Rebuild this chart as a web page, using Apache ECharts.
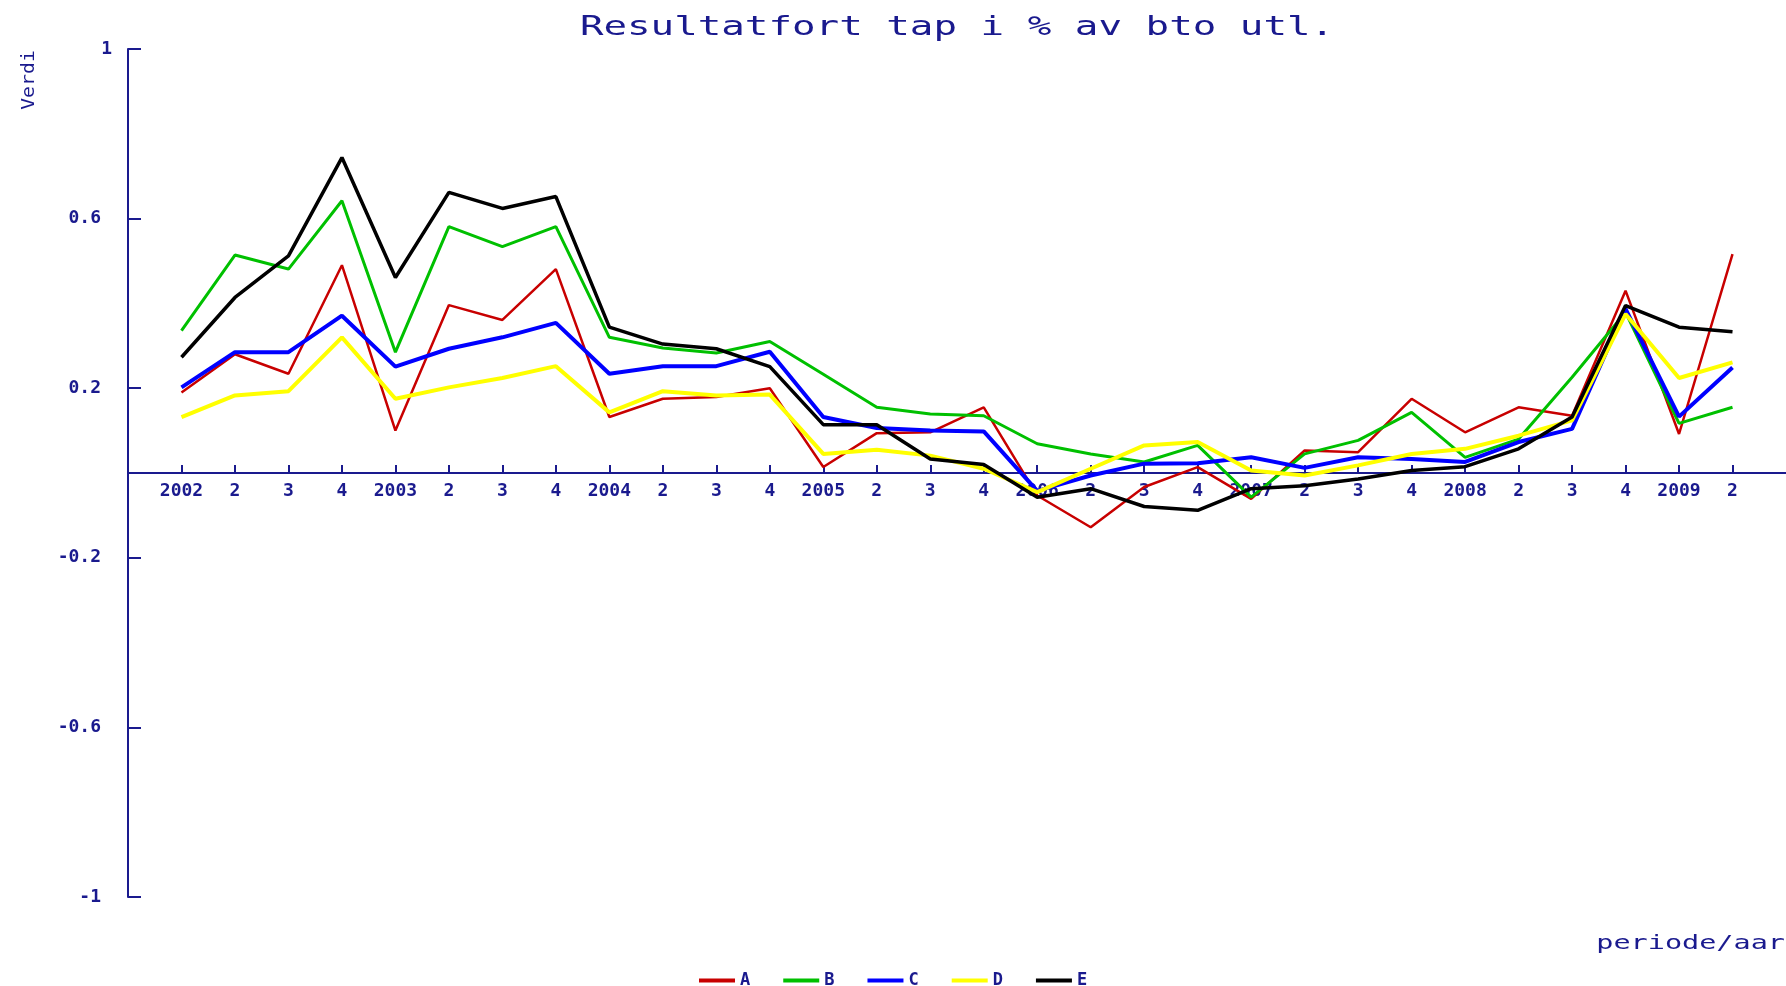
<!DOCTYPE html>
<html>
<head>
<meta charset="utf-8">
<script src="https://cdn.jsdelivr.net/npm/echarts@6/dist/echarts.min.js"></script>
<style>
html,body{margin:0;padding:0;background:#ffffff;}
#c{width:1786px;height:986px;}
</style>
</head>
<body>
<div id="c"></div>
<script>
// ---- data ----
const periods = ['2002','2','3','4','2003','2','3','4','2004','2','3','4','2005','2','3','4',
                 '2006','2','3','4','2007','2','3','4','2008','2','3','4','2009','2'];
const seriesNames = ['A','B','C','D','E'];
const valuesA = [0.19,0.28,0.234,0.49,0.10,0.396,0.361,0.481,0.132,0.175,0.179,0.20,0.014,0.094,0.096,0.155,
                 -0.053,-0.128,-0.033,0.014,-0.061,0.053,0.049,0.175,0.096,0.155,0.135,0.43,0.092,0.516];
const valuesB = [0.336,0.514,0.481,0.642,0.285,0.581,0.534,0.581,0.32,0.295,0.283,0.31,0.233,0.155,0.139,0.135,
                 0.069,0.045,0.026,0.065,-0.057,0.045,0.077,0.143,0.037,0.08,0.226,0.379,0.117,0.155];
const valuesC = [0.202,0.285,0.285,0.371,0.251,0.293,0.32,0.354,0.234,0.252,0.252,0.286,0.132,0.106,0.10,0.098,
                 -0.042,-0.006,0.022,0.023,0.037,0.012,0.037,0.033,0.026,0.073,0.104,0.387,0.133,0.249];
const valuesD = [0.132,0.183,0.193,0.32,0.175,0.202,0.224,0.252,0.143,0.193,0.183,0.185,0.045,0.055,0.041,0.01,
                 -0.045,0.01,0.065,0.073,0.006,-0.006,0.018,0.045,0.057,0.088,0.124,0.375,0.224,0.261];
const valuesE = [0.273,0.414,0.512,0.744,0.461,0.662,0.624,0.652,0.344,0.304,0.293,0.251,0.114,0.114,0.033,0.02,
                 -0.057,-0.037,-0.079,-0.088,-0.037,-0.03,-0.014,0.006,0.015,0.057,0.132,0.395,0.344,0.333];
const yTicks = [-1,-0.6,-0.2,0.2,0.6,1];
const titleText = 'Resultatfort tap i % av bto utl.';
const yName = 'Verdi';
const xName = 'periode/aar';

// ---- styling ----
const NAVY = '#1a1a8e';
const FONT = 'DejaVu Sans Mono';
const colors = ['#c80000','#00c000','#0000ff','#ffff00','#000000'];
const widths = [2.5,3,4,4,3.5];

const allValues = [valuesA, valuesB, valuesC, valuesD, valuesE];
const xPos = periods.map((_, i) => i + 1);

const chart = echarts.init(document.getElementById('c'), null, {renderer: 'canvas'});
const option = {
  animation: false,
  backgroundColor: '#ffffff',
  legend: {
    data: seriesNames,
    left: 694,
    top: 967,
    icon: 'rect',
    itemWidth: 36,
    itemHeight: 4,
    itemGap: 33,
    textStyle: {fontFamily: FONT, fontSize: 17, fontWeight: 'bold', color: NAVY}
  },
  grid: {left: 128, right: 0, top: 49, bottom: 89, containLabel: false},
  xAxis: {
    type: 'value',
    min: 0,
    max: 31,
    position: 'bottom',
    offset: -424,
    splitLine: {show: false},
    axisLine: {onZero: false, lineStyle: {color: NAVY, width: 2}},
    axisTick: {show: true, inside: true, length: 8, customValues: xPos, lineStyle: {color: NAVY, width: 2}},
    axisLabel: {
      customValues: xPos,
      margin: 9,
      hideOverlap: false,
      fontFamily: FONT, fontSize: 18, fontWeight: 'bold', color: NAVY,
      formatter: v => periods[Math.round(v) - 1] || ''
    }
  },
  yAxis: {
    type: 'value',
    min: -1,
    max: 1,
    splitLine: {show: false},
    axisLine: {show: true, onZero: false, lineStyle: {color: NAVY, width: 2}},
    axisTick: {show: true, inside: true, length: 13, customValues: yTicks, lineStyle: {color: NAVY, width: 2}},
    axisLabel: {
      customValues: yTicks,
      margin: 16,
      fontFamily: FONT, fontSize: 18, fontWeight: 'bold', color: NAVY,
      formatter: v => {
        const s = String(Math.round(v * 10) / 10);
        return Math.abs(v - 1) < 1e-9 ? '{t|' + s + '}' : '{o|' + s + '}';
      },
      rich: {
        t: {fontFamily: FONT, fontSize: 18, fontWeight: 'bold', color: NAVY},
        o: {fontFamily: FONT, fontSize: 18, fontWeight: 'bold', color: NAVY, padding: [0, 11, 0, 0]}
      }
    }
  },
  graphic: [
    {type: 'text', x: 957, y: 28, scaleX: 1.45,
     style: {text: titleText, fill: NAVY, font: 'normal 27px "DejaVu Sans Mono"', textAlign: 'center', textVerticalAlign: 'middle'}},
    {type: 'text', x: 29, y: 80, rotation: Math.PI / 2, scaleX: 1.1,
     style: {text: yName, fill: NAVY, font: 'normal 18px "DejaVu Sans Mono"', textAlign: 'center', textVerticalAlign: 'middle'}},
    {type: 'text', x: 1785, y: 944, scaleX: 1.5,
     style: {text: xName, fill: NAVY, font: 'normal 19px "DejaVu Sans Mono"', textAlign: 'right', textVerticalAlign: 'middle'}}
  ],
  series: seriesNames.map((name, k) => ({
    name: name,
    type: 'line',
    symbol: 'none',
    showSymbol: false,
    color: colors[k],
    lineStyle: {color: colors[k], width: widths[k]},
    data: allValues[k].map((v, i) => [xPos[i], v]),
    z: 2 + k
  }))
};
chart.setOption(option);
</script>
</body>
</html>
